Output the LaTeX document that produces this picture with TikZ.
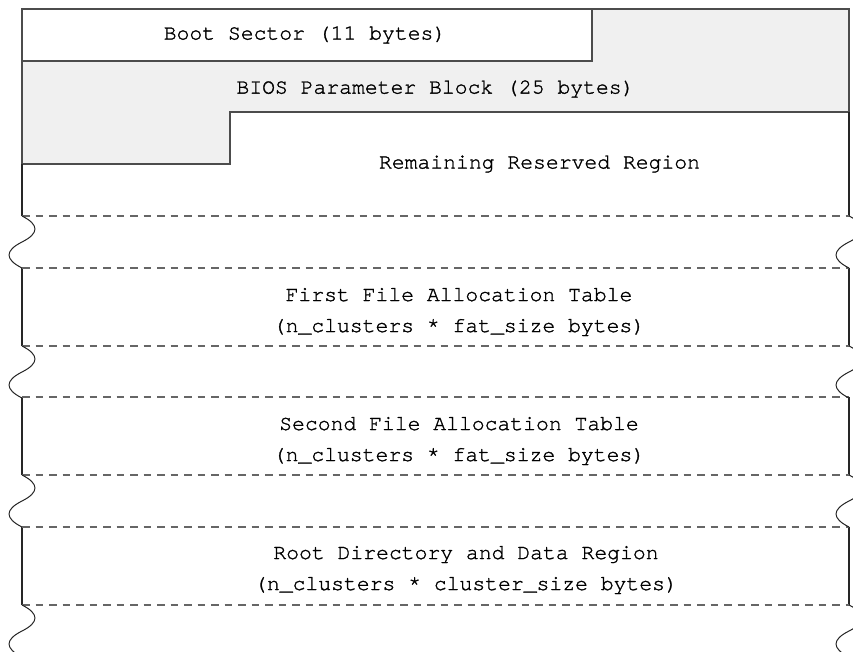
\documentclass[tikz,border=0pt]{standalone}
\usepackage{fontspec}
\newfontfamily\cursorfont[RawFeature={embolden=1.3}]{texgyrecursor-regular.otf}
\begin{document}
\begin{tikzpicture}[x=1pt,y=-1pt,
  edge/.style={draw=black!85, line width=1.2pt},
  blk/.style={draw=black!70, line width=1.2pt},
  cut/.style={draw=black!60, line width=1.4pt, dash pattern=on 7.5pt off 6pt},
  wave/.style={draw=black!85, line width=1pt},
  lbl/.style={font=\cursorfont\fontsize{21.4}{31}\selectfont, align=center, inner sep=0pt, text=black}]
\useasboundingbox (0,0) rectangle (853,652);
\clip (0,0) rectangle (853,652);
\fill[white] (0,0) rectangle (853,652);

% BIOS parameter block (stepped grey area)
\filldraw[fill=black!6, blk] (22,61) -- (592,61) -- (592,9) -- (849,9) -- (849,112)
  -- (230,112) -- (230,164) -- (22,164) -- cycle;
% boot sector
\filldraw[fill=white, blk] (22,9) rectangle (592,61);
% sides of the remaining reserved region
\draw[edge] (22,164) -- (22,216);
\draw[edge] (849,112) -- (849,216);

% solid sides of each region
\foreach \ya/\yb in {268/346, 397/475, 527/605} {
  \draw[edge] (22,\ya) -- (22,\yb);
  \draw[edge] (849,\ya) -- (849,\yb);
}
% dashed cut lines
\foreach \yc in {216, 268, 346, 397, 475, 527, 605} {
  \draw[cut] (22,\yc) -- (849,\yc);
}
% wavy breaks on both sides
\foreach \xw in {22, 849} {
  \foreach \yw in {216, 346, 475, 605} {
    \begin{scope}[shift={(\xw,\yw)}]
      \draw[wave] (0,0) .. controls (17.3,8.7) and (17.3,17.3) .. (0,26)
        .. controls (-17.3,34.7) and (-17.3,43.3) .. (0,52);
    \end{scope}
  }
}

% labels
\node[lbl] (boot) at (305,35) {Boot Sector (11 bytes)};
\node[lbl] (bpb) at (435.5,89) {BIOS Parameter Block (25 bytes)};
\node[lbl] (rsv) at (539.5,164) {Remaining Reserved Region};
\node[lbl] (fata) at (459,312) {First File Allocation Table\\(n\_clusters * fat\_size bytes)};
\node[lbl] (fatb) at (459,441) {Second File Allocation Table\\(n\_clusters * fat\_size bytes)};
\node[lbl] (data) at (466,570) {Root Directory and Data Region\\(n\_clusters * cluster\_size bytes)};
\end{tikzpicture}
\end{document}
